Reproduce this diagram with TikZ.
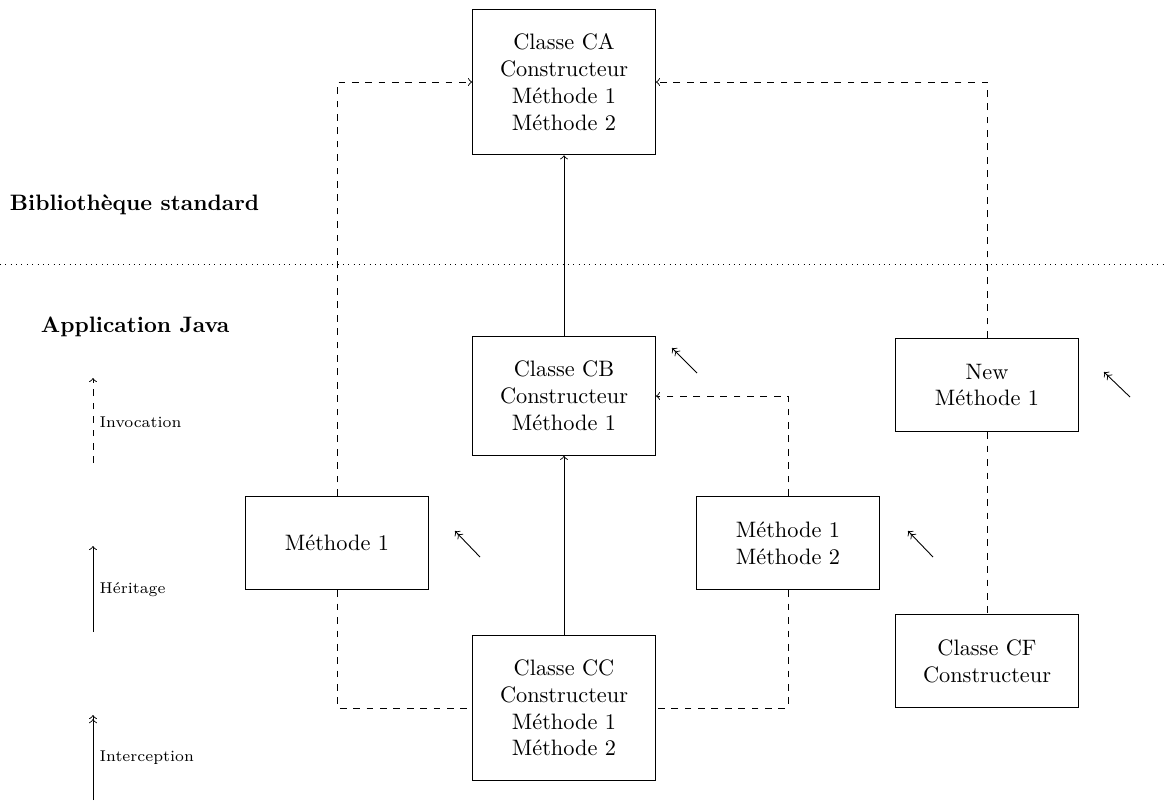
\documentclass[tikz,border=0pt]{standalone}
\usetikzlibrary{arrows}
\begin{document}
\begin{tikzpicture}[x=0.448pt, y=-0.448pt,
  classbox/.style={draw, align=center, minimum width=82pt, minimum height=42pt, inner ysep=11pt},
  layer/.style={font=\bfseries, anchor=west},
  legendtext/.style={font=\scriptsize, anchor=west, inner sep=1pt},
  inherit/.style={->},
  invoke/.style={->, dashed},
  link/.style={dashed},
  intercept/.style={->>}]
\useasboundingbox (0,0) rectangle (1166,801);

% layer labels and separator
\node[layer] (lib) at (2,205) {Bibliothèque standard};
\node[layer] (app) at (33,327) {Application Java};
\coordinate (sepL) at (0,264);
\coordinate (sepR) at (1166,264);
\draw[dotted] (sepL) -- (sepR);

% classes
\node[classbox] (ca) at (564,82) {Classe CA\\Constructeur\\Méthode 1\\Méthode 2};
\node[classbox] (cb) at (564,396) {Classe CB\\Constructeur\\Méthode 1};
\node[classbox] (cc) at (564,708) {Classe CC\\Constructeur\\Méthode 1\\Méthode 2};
\node[classbox] (m1) at (337,543) {Méthode 1};
\node[classbox] (m12) at (788,543) {Méthode 1\\Méthode 2};
\node[classbox] (nw) at (987,385) {New\\Méthode 1};
\node[classbox] (cf) at (987,661) {Classe CF\\Constructeur};

% inheritance
\draw[inherit] (cb) -- (ca);
\draw[inherit] (cc) -- (cb);

% invocations
\draw[invoke] (m1.north) |- (ca.west);
\draw[invoke] (nw.north) |- (ca.east);
\draw[invoke] (m12.north) |- (cb.east);

% links
\draw[link] (nw) -- (cf);
\draw[link] (m1.south) |- (cc.west);
\draw[link] (m12.south) |- (cc.east);

% interception markers
\coordinate (i1a) at (697,373); \coordinate (i1b) at (672,348);
\coordinate (i2a) at (480,557); \coordinate (i2b) at (455,531);
\coordinate (i3a) at (933,557); \coordinate (i3b) at (908,531);
\coordinate (i4a) at (1130,397); \coordinate (i4b) at (1104,372);
\draw[intercept] (i1a) -- (i1b);
\draw[intercept] (i2a) -- (i2b);
\draw[intercept] (i3a) -- (i3b);
\draw[intercept] (i4a) -- (i4b);

% legend
\coordinate (l1a) at (93,463); \coordinate (l1b) at (93,378);
\coordinate (l2a) at (93,632); \coordinate (l2b) at (93,546);
\coordinate (l3a) at (93,800); \coordinate (l3b) at (93,715);
\draw[invoke] (l1a) -- (l1b);
\draw[inherit] (l2a) -- (l2b);
\draw[intercept] (l3a) -- (l3b);
\node[legendtext] (t1) at (97,422) {Invocation};
\node[legendtext] (t2) at (97,590) {Héritage};
\node[legendtext] (t3) at (97,758) {Interception};
\end{tikzpicture}
\end{document}
